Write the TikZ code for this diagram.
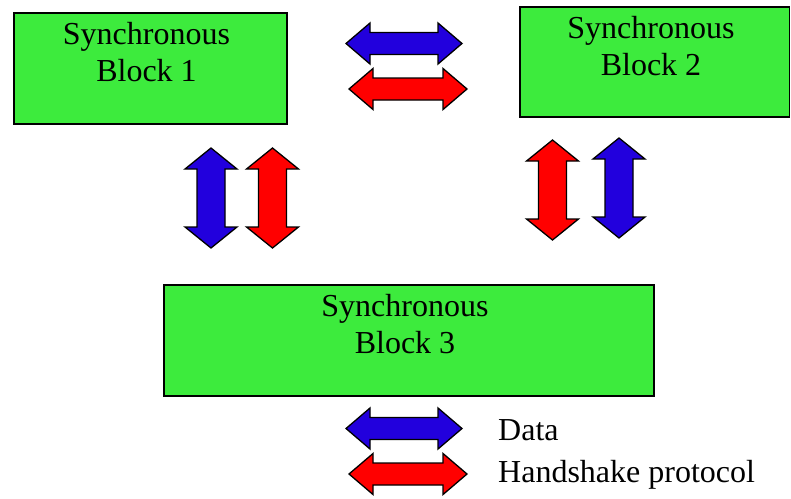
\documentclass[tikz,border=0pt]{standalone}
\usepackage{fontspec}
\setmainfont{Liberation Serif}
\definecolor{blockgreen}{RGB}{61,235,61}
\definecolor{datablue}{RGB}{34,0,221}
\definecolor{hsred}{RGB}{255,0,0}
% horizontal double block arrow: style, left x, right x, centre y
\newcommand{\hdblarrow}[4]{%
  \draw[#1] (#2,#4) -- (#2+24,#4-20.5) -- (#2+24,#4-11) -- (#3-24,#4-11)
    -- (#3-24,#4-20.5) -- (#3,#4) -- (#3-24,#4+20.5) -- (#3-24,#4+11)
    -- (#2+24,#4+11) -- (#2+24,#4+20.5) -- cycle;}
% vertical double block arrow: style, centre x, top y, bottom y
\newcommand{\vdblarrow}[4]{%
  \draw[#1] (#2,#3) -- (#2+26,#3+21) -- (#2+14,#3+21) -- (#2+14,#4-21)
    -- (#2+26,#4-21) -- (#2,#4) -- (#2-26,#4-21) -- (#2-14,#4-21)
    -- (#2-14,#3+21) -- (#2-26,#3+21) -- cycle;}
\tikzset{
  block/.style={draw=black, line width=1.6pt, fill=blockgreen, inner sep=0pt},
  blocktext/.style={anchor=north, align=center, inner sep=0pt,
    font=\fontsize{32}{37}\selectfont, xshift=-4pt, yshift=-9pt},
  legendtext/.style={anchor=base west, inner sep=0pt, font=\fontsize{32}{37}\selectfont},
  dataarrow/.style={draw=black, line width=1.3pt, line join=miter, fill=datablue},
  hsarrow/.style={draw=black, line width=1.3pt, line join=miter, fill=hsred}
}
\begin{document}
\begin{tikzpicture}[x=1pt, y=-1pt]
  \useasboundingbox (0,0) rectangle (791,498);

  % the three synchronous blocks
  \draw[block] (14,13) rectangle (287,124);
  \node[blocktext] (b1) at (150.5,13) {Synchronous\\Block 1};
  \draw[block] (520,7) rectangle (789.5,117);
  \node[blocktext] (b2) at (655,7) {Synchronous\\Block 2};
  \draw[block] (164,285) rectangle (654,396);
  \node[blocktext] (b3) at (409,285) {Synchronous\\Block 3};

  % links between block 1 and block 2
  \hdblarrow{dataarrow}{346}{462}{43.5}
  \hdblarrow{hsarrow}{349}{467}{89}

  % links between block 1 and block 3
  \vdblarrow{dataarrow}{211}{148}{248}
  \vdblarrow{hsarrow}{272.5}{148}{248}

  % links between block 2 and block 3
  \vdblarrow{hsarrow}{552.5}{140}{240}
  \vdblarrow{dataarrow}{619}{138}{238}

  % legend
  \hdblarrow{dataarrow}{346}{462}{428.5}
  \hdblarrow{hsarrow}{349}{467}{474}
  \node[legendtext] (ldata) at (498,440) {Data};
  \node[legendtext] (lhs) at (498,482) {Handshake protocol};
\end{tikzpicture}
\end{document}
